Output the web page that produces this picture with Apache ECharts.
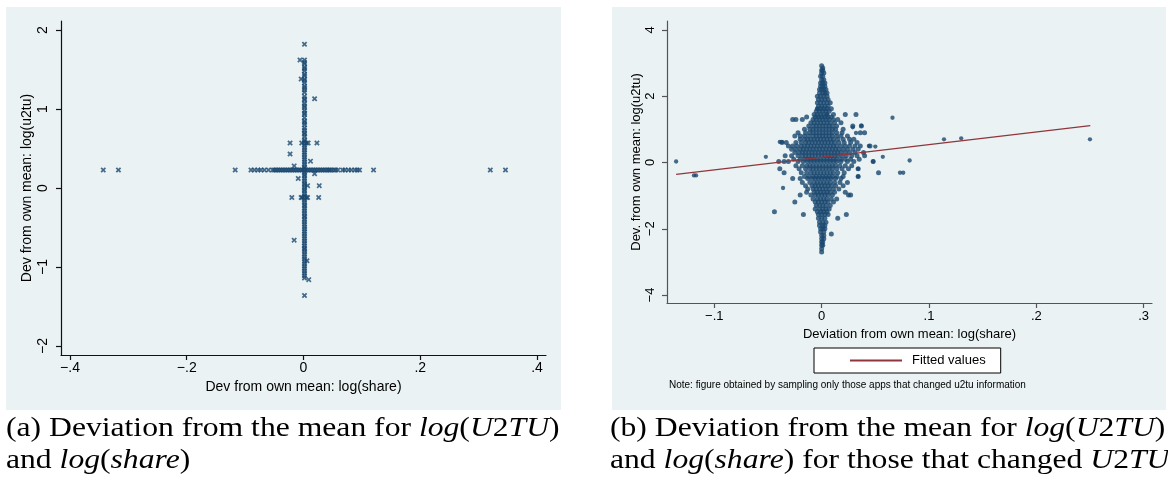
<!DOCTYPE html>
<html><head><meta charset="utf-8">
<script src="https://cdn.jsdelivr.net/npm/echarts@6/dist/echarts.min.js"></script>
<style>html,body{margin:0;padding:0;background:#fff}#c{width:1168px;height:479px}</style>
</head><body><div id="c"></div>
<script>
// ---------- Panel (a) data ----------
const leftXTicks = [-0.4, -0.2, 0, 0.2, 0.4];
const leftYTicks = [-2, -1, 0, 1, 2];
// vertical spine near x = 0
const leftSpine = [
  [0.0017,1.82],[0.0017,1.62],[0.0015,1.59],[0.0017,1.57],[0.0019,1.53],[0.0017,1.51],[0.0016,1.48],[0.0017,1.44],
  [0.0018,1.42],[0.0017,1.38],[0.0016,1.36],[0.0017,1.33],[0.0017,1.29],[0.0019,1.27],[0.0017,1.24],[0.0016,1.21],
  [0.0017,1.16],[0.0017,1.13],[0.0018,1.11],[0.0017,1.07],[0.0016,1.04],[0.0017,1.02],[0.0017,0.98],[0.0019,0.95],
  [0.0017,0.93],[0.0016,0.89],[0.0017,0.85],[0.0017,0.83],[0.0018,0.80],[0.0017,0.76],[0.0016,0.73],[0.0017,0.70],
  [0.0017,0.68],[0.0019,0.65],[0.0017,0.61],[0.0016,0.59],[0.0017,0.57],[0.0050,0.57],[0.0080,0.57],[-0.0030,0.57],
  [0.0017,0.54],[0.0017,0.51],[0.0018,0.48],[0.0017,0.45],[0.0016,0.42],[0.0017,0.39],[0.0017,0.36],[0.0019,0.33],
  [0.0017,0.30],[0.0016,0.27],[0.0017,0.25],[0.0017,0.20],[0.0018,0.17],[0.0017,0.15],[0.0016,0.12],[0.0017,0.09],
  [0.0017,0.06],[0.0019,0.04],[0.0017,0.01],[0.0016,-0.02],[0.0017,-0.04],[0.0017,-0.07],[0.0018,-0.10],
  [0.0017,-0.12],[-0.0040,-0.12],[-0.0020,-0.12],[0.0050,-0.12],[0.0070,-0.12],[0.0016,-0.15],[0.0017,-0.18],
  [0.0017,-0.21],[0.0019,-0.23],[0.0017,-0.26],[0.0016,-0.29],[0.0017,-0.32],[0.0017,-0.35],[0.0018,-0.37],
  [0.0017,-0.40],[0.0016,-0.43],[0.0017,-0.46],[0.0017,-0.49],[0.0019,-0.52],[0.0017,-0.55],[0.0016,-0.58],
  [0.0017,-0.61],[0.0017,-0.64],[0.0018,-0.67],[0.0017,-0.70],[0.0016,-0.73],[0.0017,-0.76],[0.0017,-0.78],
  [0.0019,-0.81],[0.0017,-0.84],[0.0016,-0.87],[0.0017,-0.90],[0.0017,-0.93],[0.0018,-0.96],[0.0017,-0.99],
  [0.0016,-1.02],[0.0017,-1.05],[0.0017,-1.08],[0.0017,-1.11],[0.0017,-1.14],[0.0017,-1.36]
];
// horizontal arm at log(u2tu) ~ 0.23
const leftArmY = 0.228;
const leftArmX = [
  -0.343,-0.317,-0.117,-0.090,-0.084,-0.078,-0.073,-0.067,-0.060,-0.053,-0.050,-0.047,-0.044,-0.041,-0.038,-0.035,
  -0.032,-0.029,-0.026,-0.023,-0.020,-0.017,-0.014,-0.011,-0.008,-0.005,-0.002,0.001,0.004,0.007,0.010,0.013,0.016,
  0.019,0.022,0.025,0.028,0.031,0.034,0.037,0.040,0.043,0.045,0.048,0.052,0.055,0.059,0.067,0.071,0.077,0.082,
  0.088,0.092,0.096,0.120,0.320,0.346
];
const leftOutliers = [
  [-0.006,1.62],[-0.004,1.38],[0.019,1.13],[-0.023,0.57],[0.023,0.57],[-0.023,0.43],[-0.016,0.28],[0.012,0.34],
  [0.019,0.18],[-0.009,0.12],[0.027,0.03],[0.007,0.03],[-0.020,-0.12],[0.026,-0.12],[-0.016,-0.66],[0.006,-0.92],
  [0.009,-1.16]
];

// ---------- Panel (b) data ----------
const rightXTicks = [-0.1, 0, 0.1, 0.2, 0.3];
const rightYTicks = [-4, -2, 0, 2, 4];
// dense cloud, listed by row: [log(u2tu), [log(share) values]]
const rightCloudRows = [
  [2.92,[0.000]],[2.85,[0.001]],[2.78,[0.000,0.001]],[2.70,[0.000,0.002]],[2.60,[-0.001,0.001]],
  [2.50,[0.000,0.002]],[2.40,[-0.001,0.001,0.003]],[2.30,[-0.001,0.001,0.003]],[2.20,[-0.002,0.000,0.002,0.004]],
  [2.10,[-0.002,0.001,0.003,0.005]],[2.00,[-0.004,-0.001,0.002,0.005]],[1.90,[-0.003,0.000,0.003,0.006]],
  [1.80,[-0.004,-0.001,0.002,0.005,0.008]],[1.70,[-0.003,0.000,0.003,0.006]],
  [1.62,[-0.004,-0.001,0.002,0.005,0.009]],[1.55,[-0.005,-0.002,0.001,0.004,0.007]],
  [1.45,[-0.007,-0.004,-0.001,0.002,0.005,0.011,0.022,0.032]],
  [1.37,[-0.014,-0.006,-0.003,0.000,0.003,0.006,0.009]],
  [1.30,[-0.027,-0.024,-0.018,-0.008,-0.005,-0.002,0.001,0.004,0.007,0.011,0.015]],
  [1.20,[-0.010,-0.007,-0.004,-0.001,0.002,0.005,0.008,0.012,0.018]],
  [1.10,[-0.012,-0.008,-0.005,-0.002,0.001,0.004,0.007,0.010,0.014,0.029,0.037]],
  [1.00,[-0.016,-0.011,-0.008,-0.005,-0.002,0.001,0.004,0.007,0.010,0.013,0.020]],
  [0.90,[-0.022,-0.015,-0.011,-0.008,-0.005,-0.002,0.001,0.004,0.007,0.010,0.014,0.019,0.036,0.040]],
  [0.80,[-0.025,-0.020,-0.016,-0.012,-0.008,-0.005,-0.002,0.001,0.004,0.007,0.010,0.014,0.018,0.024]],
  [0.70,[-0.020,-0.016,-0.013,-0.010,-0.007,-0.004,-0.001,0.002,0.005,0.008,0.011,0.015,0.020,0.026,0.030]],
  [0.60,[-0.037,-0.033,-0.024,-0.019,-0.015,-0.012,-0.009,-0.006,-0.003,0.000,0.003,0.006,0.009,0.012,0.016,0.021,0.027,0.033]],
  [0.50,[-0.031,-0.027,-0.023,-0.019,-0.016,-0.013,-0.010,-0.007,-0.004,-0.001,0.002,0.005,0.008,0.011,0.014,0.018,0.022,0.026,0.031,0.036,0.045]],
  [0.40,[-0.028,-0.024,-0.020,-0.017,-0.014,-0.011,-0.008,-0.005,-0.002,0.001,0.004,0.007,0.010,0.013,0.016,0.020,0.024,0.029,0.034]],
  [0.30,[-0.025,-0.021,-0.018,-0.015,-0.012,-0.009,-0.006,-0.003,0.000,0.003,0.006,0.009,0.012,0.015,0.018,0.022,0.026,0.031,0.039]],
  [0.20,[-0.034,-0.028,-0.022,-0.018,-0.015,-0.012,-0.009,-0.006,-0.003,0.000,0.003,0.006,0.009,0.012,0.015,0.019,0.023,0.028,0.033,0.040]],
  [0.10,[-0.026,-0.020,-0.016,-0.013,-0.010,-0.007,-0.004,-0.001,0.002,0.005,0.008,0.011,0.014,0.018,0.022,0.027,0.035]],
  [0.03,[-0.040,-0.035,-0.031,-0.022,-0.017,-0.013,-0.010,-0.007,-0.004,-0.001,0.002,0.005,0.008,0.011,0.014,0.018,0.024,0.030,0.048]],
  [-0.10,[-0.024,-0.018,-0.014,-0.011,-0.008,-0.005,-0.002,0.001,0.004,0.007,0.010,0.013,0.017,0.022,0.028]],
  [-0.19,[-0.039,-0.021,-0.015,-0.011,-0.008,-0.005,-0.002,0.001,0.004,0.007,0.010,0.014,0.019,0.025,0.034]],
  [-0.31,[-0.035,-0.019,-0.014,-0.010,-0.007,-0.004,-0.001,0.002,0.005,0.008,0.011,0.015,0.021,0.053]],
  [-0.42,[-0.016,-0.012,-0.008,-0.005,-0.002,0.001,0.004,0.007,0.010,0.014,0.020,0.034]],
  [-0.48,[-0.027,-0.020,-0.013,-0.009,-0.006,-0.003,0.000,0.003,0.006,0.009,0.013,0.018]],
  [-0.60,[-0.018,-0.011,-0.007,-0.004,-0.001,0.002,0.005,0.008,0.012,0.017,0.024]],
  [-0.70,[-0.015,-0.009,-0.006,-0.003,0.000,0.003,0.006,0.009,0.013,0.020]],
  [-0.80,[-0.013,-0.008,-0.005,-0.002,0.001,0.004,0.007,0.011,0.016]],
  [-0.90,[-0.014,-0.007,-0.004,-0.001,0.002,0.005,0.008,0.012,0.022]],
  [-0.98,[-0.020,-0.010,-0.006,-0.003,0.000,0.003,0.006,0.010,0.025,0.027]],
  [-1.10,[-0.008,-0.004,-0.001,0.002,0.005,0.009,0.014]],
  [-1.19,[-0.025,-0.006,-0.003,0.000,0.003,0.006,0.011]],
  [-1.30,[-0.005,-0.002,0.001,0.004,0.008]],
  [-1.40,[-0.006,-0.002,0.001,0.004,0.007]],
  [-1.49,[-0.044,-0.004,-0.001,0.002,0.005]],
  [-1.57,[-0.017,-0.003,0.000,0.003,0.006,0.023]],
  [-1.68,[-0.003,0.000,0.003,0.015]],
  [-1.80,[-0.002,0.001,0.004]],[-1.90,[-0.002,0.001,0.003]],[-2.00,[-0.001,0.001,0.003]],
  [-2.10,[-0.001,0.002]],[-2.16,[0.009]],[-2.20,[0.000,0.002]],[-2.30,[0.000,0.002]],
  [-2.40,[0.000,0.001]],[-2.50,[0.000,0.001]],[-2.60,[0.000]],[-2.70,[0.000]]
];
const rightOutliers = [
  [-0.1356,0.03],[-0.119,-0.39],[-0.117,-0.39],[-0.052,0.17],[-0.036,-0.77],[-0.039,0.62],[-0.037,0.62],
  [0.057,0.17],[0.050,0.48],[0.044,0.50],[0.066,1.35],[0.073,-0.31],[0.076,-0.31],[0.082,0.06],
  [0.114,0.70],[0.130,0.73],[0.250,0.70],[0.037,1.11],[0.029,1.06],[0.034,-0.19],[0.034,-0.42],
  [-0.004,1.62],[0.005,1.45],[0.032,0.89],[0.048,0.03]
];
const fitX = [-0.1356, 0.2503];
const fitY = [-0.36, 1.11];

// ---------- build ----------
const leftData = leftSpine.concat(leftArmX.map(x => [x, leftArmY]), leftOutliers);
const rightCore = [];
rightCloudRows.forEach(r => r[1].forEach(x => rightCore.push([x, r[0]])));
const fitData = fitX.map((x, i) => [x, fitY[i]]);

const fmt = v => {
  if (Math.abs(v) < 1e-9) return '0';
  const s = String(Math.abs(+v.toFixed(6))).replace(/^0(?=\.)/, '');
  return (v < 0 ? '\u2212' : '') + s;
};
const BG = '#eaf2f3', NAVY = '#1a476f', MAROON = '#90353b';
const XMARK = 'path://M0,2.2L2.2,0L5,2.8L7.8,0L10,2.2L7.2,5L10,7.8L7.8,10L5,7.2L2.2,10L0,7.8L2.8,5Z';

function mkAxis(o) {
  return Object.assign({
    type: 'value', scale: false, splitLine: { show: false },
    nameLocation: 'middle',
    nameTextStyle: { color: '#000', fontFamily: 'Liberation Sans', fontSize: o.fs },
    axisLine: { show: true, onZero: false, lineStyle: { color: o.lc, width: 1.2 } },
    axisTick: { show: true, length: 5, lineStyle: { color: o.lc, width: 1.2 }, customValues: o.ticks },
    axisLabel: { color: '#000', fontFamily: 'Liberation Sans', fontSize: o.fs, customValues: o.ticks,
                 formatter: fmt, margin: o.margin, rotate: o.rotate || 0 }
  }, o.extra);
}

const chart = echarts.init(document.getElementById('c'), null, { renderer: 'canvas' });
const rich = {
  n: { fontFamily: 'Liberation Serif', fontSize: 28, color: '#000' },
  i: { fontFamily: 'Liberation Serif', fontStyle: 'italic', fontSize: 28, color: '#000' }
};
const SX = 1.13;
chart.setOption({
  animation: false,
  backgroundColor: '#fff',
  graphic: [
    { type: 'rect', z: -10, shape: { x: 6, y: 7, width: 555, height: 403 }, style: { fill: BG } },
    { type: 'rect', z: -10, shape: { x: 612, y: 7, width: 554, height: 403 }, style: { fill: BG } },
    { type: 'text', left: 669, top: 380, style: { text: 'Note: figure obtained by sampling only those apps that changed u2tu information', fontFamily: 'Liberation Sans', fontSize: 10, fill: '#000' } },
    { type: 'text', x: 6, y: 429, scaleX: SX, style: { text: '{n|(a) Deviation from the mean for }{i|log}{n|(}{i|U}{n|2}{i|TU}{n|)}', rich: rich, verticalAlign: 'middle' } },
    { type: 'text', x: 6, y: 461, scaleX: SX, style: { text: '{n|and }{i|log}{n|(}{i|share}{n|)}', rich: rich, verticalAlign: 'middle' } },
    { type: 'text', x: 610, y: 429, scaleX: SX, style: { text: '{n|(b) Deviation from the mean for }{i|log}{n|(}{i|U}{n|2}{i|TU}{n|)}', rich: rich, verticalAlign: 'middle' } },
    { type: 'text', x: 610, y: 461, scaleX: SX, style: { text: '{n|and }{i|log}{n|(}{i|share}{n|) for those that changed }{i|U}{n|2}{i|TU}', rich: rich, verticalAlign: 'middle' } }
  ],
  legend: {
    data: ['Fitted values'], left: 814, top: 348, padding: [6, 15, 6, 36],
    backgroundColor: '#fff', borderColor: '#000', borderWidth: 1,
    itemWidth: 52, itemHeight: 2, icon: 'rect',
    textStyle: { fontFamily: 'Liberation Sans', fontSize: 13, color: '#000', padding: [0, 0, 0, 5] }
  },
  grid: [
    { left: 61, top: 21, width: 485, height: 334 },
    { left: 667, top: 21, width: 485, height: 282 }
  ],
  xAxis: [
    mkAxis({ lc: '#111', ticks: leftXTicks, fs: 14, margin: 6, extra: { gridIndex: 0, min: -0.4154, max: 0.4154, name: 'Dev from own mean: log(share)', nameGap: 22 } }),
    mkAxis({ lc: '#555', ticks: rightXTicks, fs: 13, margin: 7, extra: { gridIndex: 1, min: -0.1441, max: 0.3078, name: 'Deviation from own mean: log(share)', nameGap: 23 } })
  ],
  yAxis: [
    mkAxis({ lc: '#111', ticks: leftYTicks, fs: 14, margin: 11, rotate: 90, extra: { gridIndex: 0, min: -2.114, max: 2.114, name: 'Dev from own mean: log(u2tu)', nameGap: 27 } }),
    mkAxis({ lc: '#555', ticks: rightYTicks, fs: 13, margin: 10, rotate: 90, extra: { gridIndex: 1, min: -4.24, max: 4.27, name: 'Dev. from own mean: log(u2tu)', nameGap: 24 } })
  ],
  series: [
    { type: 'scatter', name: 'a', xAxisIndex: 0, yAxisIndex: 0, data: leftData, symbol: XMARK, symbolSize: 5.5,
      itemStyle: { color: NAVY } },
    { type: 'scatter', name: 'b', xAxisIndex: 1, yAxisIndex: 1, data: rightCore, symbol: 'circle', symbolSize: 5,
      itemStyle: { color: NAVY } },
    { type: 'scatter', name: 'b2', xAxisIndex: 1, yAxisIndex: 1, data: rightOutliers, symbol: 'circle', symbolSize: 4.3,
      itemStyle: { color: NAVY } },
    { type: 'line', name: 'Fitted values', xAxisIndex: 1, yAxisIndex: 1, data: fitData, showSymbol: false, symbol: 'none',
      lineStyle: { color: MAROON, width: 1.3 }, itemStyle: { color: MAROON }, z: 5 }
  ]
});
</script></body></html>
